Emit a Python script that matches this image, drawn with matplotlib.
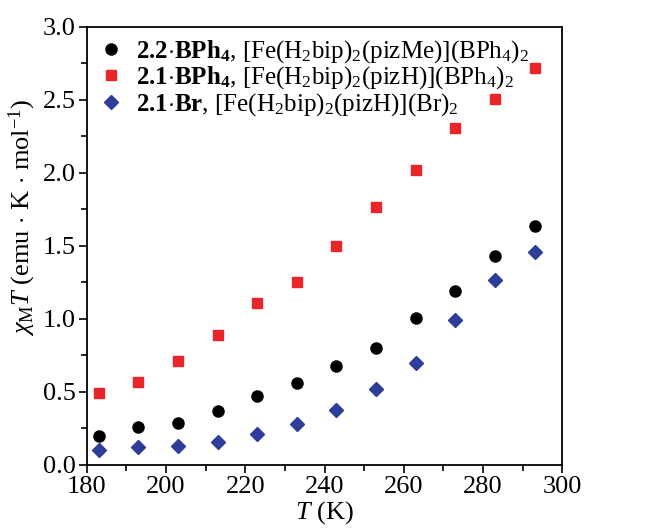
import matplotlib
matplotlib.use("Agg")
import matplotlib.pyplot as plt
from matplotlib.ticker import MultipleLocator, FormatStrFormatter

temps = [183, 193, 203, 213, 223, 233, 243, 253, 263, 273, 283, 293]
chi_bph4_me = [0.20, 0.26, 0.29, 0.37, 0.47, 0.56, 0.68, 0.80, 1.01, 1.19, 1.43, 1.64]
chi_bph4_h = [0.49, 0.57, 0.71, 0.89, 1.11, 1.25, 1.50, 1.77, 2.02, 2.31, 2.51, 2.72]
chi_br_h = [0.10, 0.12, 0.13, 0.16, 0.21, 0.28, 0.38, 0.52, 0.70, 0.99, 1.27, 1.46]

labels = [
    r"$\mathbf{2.2{\cdot}BPh_4}$, [Fe(H$_2$bip)$_2$(pizMe)](BPh$_4$)$_2$",
    r"$\mathbf{2.1{\cdot}BPh_4}$, [Fe(H$_2$bip)$_2$(pizH)](BPh$_4$)$_2$",
    r"$\mathbf{2.1{\cdot}Br}$, [Fe(H$_2$bip)$_2$(pizH)](Br)$_2$",
]

plt.rcParams["font.family"] = ["Liberation Serif", "DejaVu Serif"]
plt.rcParams["mathtext.fontset"] = "custom"
plt.rcParams["mathtext.rm"] = "Liberation Serif"
plt.rcParams["mathtext.it"] = "Liberation Serif:italic"
plt.rcParams["mathtext.bf"] = "Liberation Serif:bold"

fig = plt.figure(figsize=(6.53, 5.29), dpi=100)
ax = fig.add_axes([0.133, 0.121, 0.728, 0.828])

ax.plot(temps, chi_bph4_me, "o", color="black", ms=8, label=labels[0])
ax.plot(temps, chi_bph4_h, "s", color="#e8262a", ms=7, label=labels[1])
ax.plot(temps, chi_br_h, "D", color="#2e3c9a", ms=7.5, label=labels[2])

ax.set_xlim(180, 300)
ax.set_ylim(0, 3.0)
ax.xaxis.set_major_locator(MultipleLocator(20))
ax.xaxis.set_minor_locator(MultipleLocator(10))
ax.yaxis.set_major_locator(MultipleLocator(0.5))
ax.yaxis.set_minor_locator(MultipleLocator(0.25))
ax.yaxis.set_major_formatter(FormatStrFormatter("%.1f"))
ax.tick_params(which="both", direction="out", top=False, right=False, labelsize=19)
ax.tick_params(which="major", length=6, width=1.2, pad=2)
ax.tick_params(which="minor", length=4, width=1.2)
for sp in ax.spines.values():
    sp.set_linewidth(1.3)

ax.set_xlabel(r"$\mathit{T}$ (K)", fontsize=19, labelpad=1)
ax.set_ylabel(r"$\chi_{\mathrm{M}}\mathit{T}$ (emu $\cdot$ K $\cdot$ mol$^{-1}$)", fontsize=19)
ax.yaxis.set_label_coords(-0.103, 0.566)

ax.legend(loc="upper left", frameon=False, fontsize=18, handletextpad=0.5,
          borderaxespad=0.15, borderpad=0.3, labelspacing=-0.02, handlelength=1.0)

fig.savefig("out.png", dpi=100)
